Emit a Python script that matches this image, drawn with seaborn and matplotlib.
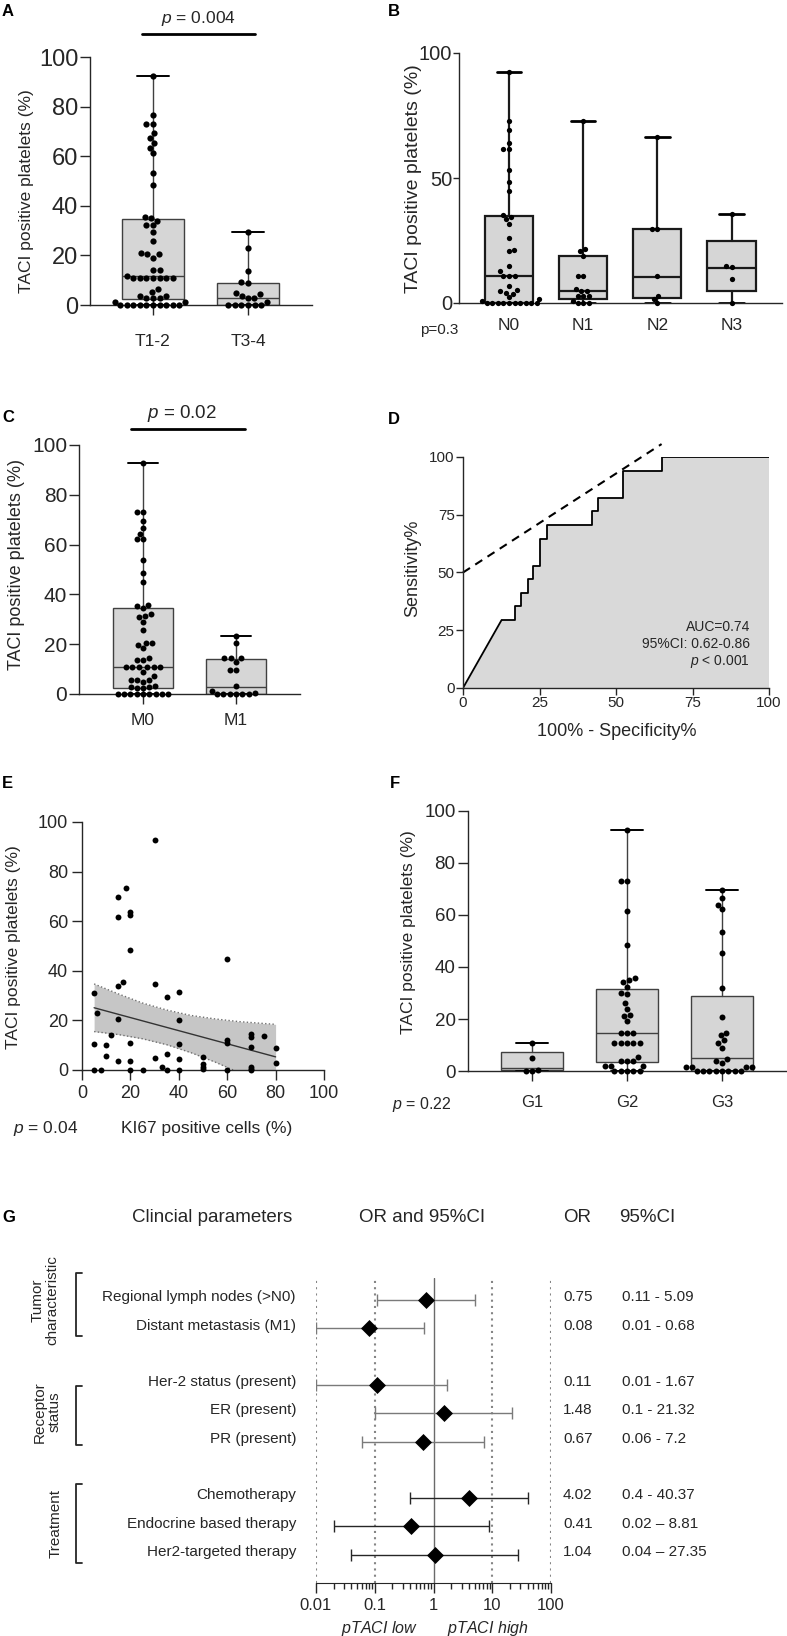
import numpy as np
import pandas as pd
import matplotlib
matplotlib.use('Agg')
import matplotlib.pyplot as plt
import seaborn as sns
from matplotlib import transforms
from matplotlib.lines import Line2D
from matplotlib.ticker import LogLocator, NullFormatter

# ---- data ----
# A: T stage
t_cats = ['T1-2', 'T3-4']
t12 = [92.2, 76.8, 72.9, 72.9, 69.4, 67.5, 65.5, 63.5, 61.3, 53.4, 48.2, 35.3, 34.9, 34.0,
       32.1, 32.1, 29.5, 25.8, 21.1, 20.4, 20.4, 19.1, 14.1, 14.1, 11.8, 11, 11, 11, 11, 11,
       11, 11, 6.6, 5.2, 3.6, 3.6, 2.7, 2.7, 2.7, 1.3, 1.3, 0, 0, 0, 0, 0, 0, 0, 0, 0, 0]
t34 = [29.3, 23.1, 13.8, 9.4, 9.0, 4.7, 4.4, 3.6, 3.0, 2.7, 1.1, 0, 0, 0, 0, 0, 0]
t_box = [(0, 2.5, 11.5, 34.5, 92.2), (0, 0, 3.0, 9.0, 29.3)]   # min, q1, median, q3, max

# B: N stage
n_cats = ['N0', 'N1', 'N2', 'N3']
n0 = [92.3, 72.9, 69.3, 64.0, 61.7, 61.7, 53.3, 48.3, 45.0, 35.3, 34.4, 33.5, 31.7, 26.0,
      21.3, 21.0, 14.7, 12.7, 11, 11, 11, 6.9, 5.1, 4.7, 4.0, 3.7, 2.3, 1.7, 1.0,
      0, 0, 0, 0, 0, 0, 0, 0, 0, 0]
n1 = [72.9, 21.6, 20.7, 18.9, 10.9, 10.9, 5.6, 5.0, 4.7, 2.7, 2.7, 2.7, 1.0, 0, 0, 0]
n2 = [66.4, 29.6, 29.6, 10.7, 2.9, 1.6, 0]
n3 = [35.6, 14.7, 14.3, 9.6, 0]
n_box = [(0, 0, 11, 35, 92.3), (0, 1.5, 5, 19, 72.9), (0, 2, 10.5, 29.5, 66.4), (0, 5, 14, 25, 35.6)]

# C: M stage
m_cats = ['M0', 'M1']
m0 = [92.6, 73.2, 73.2, 69.6, 66.5, 64.2, 62.1, 62.1, 53.8, 48.5, 45.1, 35.9, 35.3, 34.4,
      32.0, 31.5, 30.9, 29.0, 25.7, 20.6, 20.6, 19.7, 18.5, 14.5, 13.7, 13.7,
      10.7, 10.7, 10.7, 10.7, 10.7, 10.7, 9.0, 7.2, 5.6, 5.6, 5.5, 5.0, 3.2, 3.0, 2.8,
      2.5, 2.5, 0, 0, 0, 0, 0, 0, 0, 0, 0]
m1 = [23.4, 20.6, 14.3, 14.3, 14.3, 13.0, 9.8, 9.6, 3.2, 1.3, 0.6, 0, 0, 0, 0, 0, 0]
m_box = [(0, 2.5, 10.8, 34.5, 92.6), (0, 0, 2.8, 14, 23.4)]

# D: ROC curve
roc_fpr = [12.6, 17.0, 19.0, 21.1, 23.0, 25.2, 27.3, 42.0, 44.2, 52.2, 64.9, 100]
roc_tpr = [29.4, 35.3, 41.2, 47.1, 52.9, 64.7, 70.6, 76.5, 82.4, 94.1, 100, 100]
tangent_x = [0, 64.9]
tangent_y = [50, 105.6]

# E: KI67 correlation
ki67 = [30, 18, 15, 15, 20, 20, 20, 60,
        5, 15, 17, 30, 35, 40,
        6, 15, 40,
        12, 5, 10, 20, 40, 60, 60,
        70, 70, 70, 75, 80, 80,
        10, 15, 20, 30, 35, 40,
        50, 50, 50, 50, 33, 70, 70,
        5, 8, 20, 25, 35, 40, 60, 70]
taci = [92.7, 73.3, 69.6, 61.8, 63.8, 62.4, 48.3, 44.9,
        30.9, 33.7, 35.3, 34.7, 29.3, 31.6,
        23.1, 20.4, 20.3,
        14.0, 10.4, 10.0, 10.7, 10.3, 12.0, 10.9,
        14.4, 13.3, 9.3, 13.7, 8.9, 2.7,
        5.5, 3.7, 3.7, 4.8, 6.5, 4.5,
        5.1, 2.4, 1.3, 0.4, 1.3, 1.3, 0.4,
        0, 0, 0, 0, 0, 0, 0, 0]
fit_x = [5, 80]
fit_y = [25.1, 5.3]
band_x = [5, 15, 25, 35, 45, 55, 65, 80]
band_hi = [34.7, 30.7, 27.0, 24.2, 22.0, 20.6, 19.5, 18.4]
band_lo = [15.5, 14.3, 12.6, 10.2, 7.0, 3.2, -1.1, -7.8]

# F: grading
g_cats = ['G1', 'G2', 'G3']
g1 = [10.6, 4.9, 0.5, 0, 0]
g2 = [92.7, 73.2, 73.2, 61.7, 48.5, 35.6, 35.0, 34.1, 32.4, 29.9, 29.5, 26.0, 23.8, 21.5,
      21.3, 19.3, 14.5, 14.5, 14.5, 10.9, 10.9, 10.9, 10.9, 10.9, 5.5, 3.8, 3.8, 3.8,
      1.9, 1.9, 1.9, 0, 0, 0, 0, 0]
g3 = [69.6, 66.4, 63.8, 62.2, 53.6, 45.3, 31.8, 20.7, 14.7, 13.8, 11.9, 10.9, 9.0, 4.5,
      3.8, 3.0, 1.5, 1.5, 1.5, 1.5, 0, 0, 0, 0, 0, 0, 0, 0]
g_box = [(0, 0.5, 1.0, 7.5, 10.6), (0, 3.5, 14.5, 31.5, 92.7), (0, 0, 5.0, 28.8, 69.6)]

# G: odds ratios
params = ['Regional lymph nodes (>N0)', 'Distant metastasis (M1)', 'Her-2 status (present)',
          'ER (present)', 'PR (present)', 'Chemotherapy', 'Endocrine based therapy',
          'Her2-targeted therapy']
row_pos = [0, 1, 3, 4, 5, 7, 8, 9]
odds = [0.75, 0.08, 0.11, 1.48, 0.67, 4.02, 0.41, 1.04]
ci_low = [0.11, 0.01, 0.01, 0.1, 0.06, 0.4, 0.02, 0.04]
ci_high = [5.09, 0.68, 1.67, 21.32, 7.2, 40.37, 8.81, 27.35]
or_text = ['0.75', '0.08', '0.11', '1.48', '0.67', '4.02', '0.41', '1.04']
ci_text = ['0.11 - 5.09', '0.01 - 0.68', '0.01 - 1.67', '0.1 - 21.32', '0.06 - 7.2',
           '0.4 - 40.37', '0.02 \u2013 8.81', '0.04 \u2013 27.35']

# ---- style ----
sns.set_style('ticks')
plt.rcParams['font.family'] = ['Liberation Sans', 'DejaVu Sans']
plt.rcParams['mathtext.fontset'] = 'custom'
plt.rcParams['mathtext.it'] = 'Liberation Sans:italic'
plt.rcParams['mathtext.rm'] = 'Liberation Sans'
INK = '#262626'
BOX_FILL = '#d6d6d6'

W, H = 787, 1636
fig = plt.figure(figsize=(W / 100, H / 100), dpi=100)
PX = transforms.Affine2D().scale(1 / W, -1 / H).translate(0, 1) + fig.transFigure


def add_ax(x0, y_top, x1, y_bot):
    return fig.add_axes([x0 / W, 1 - y_bot / H, (x1 - x0) / W, (y_bot - y_top) / H])


def ptext(x, y, s, **kw):
    kw.setdefault('color', INK)
    kw.setdefault('va', 'center')
    return fig.text(x, y, s, transform=PX, **kw)


def pline(xs, ys, **kw):
    fig.add_artist(Line2D(xs, ys, transform=PX, **kw))


def style_axes(ax, ylen, xlen, ysize, xsize, ypad, xpad):
    sns.despine(ax=ax)
    for s in ['left', 'bottom']:
        ax.spines[s].set_color(INK)
        ax.spines[s].set_linewidth(1.0)
    ax.tick_params(axis='y', length=ylen, width=1, color=INK, labelsize=ysize,
                   pad=ypad, labelcolor=INK)
    ax.tick_params(axis='x', length=xlen, width=1, color=INK, labelsize=xsize,
                   pad=xpad, labelcolor=INK)
    ax.set_xlabel('')
    ax.set_ylabel('')


def box_panel(ax, cats, groups, stats, xlim, dot, lw=1.0, edge='#404040', capw=0.33):
    bstats = [dict(label=c, whislo=s[0], q1=s[1], med=s[2], q3=s[3], whishi=s[4])
              for c, s in zip(cats, stats)]
    ax.bxp(bstats, positions=list(range(len(cats))), widths=0.65,
           capwidths=capw, showfliers=False, patch_artist=True, manage_ticks=False,
           boxprops=dict(facecolor=BOX_FILL, edgecolor=edge, linewidth=lw),
           medianprops=dict(color=edge, linewidth=lw),
           whiskerprops=dict(color=edge, linewidth=lw),
           capprops=dict(color='black', linewidth=lw + 0.4))
    df = pd.DataFrame({'group': np.repeat(cats, [len(g) for g in groups]),
                       'value': np.concatenate(groups)})
    sns.swarmplot(data=df, x='group', y='value', order=cats, color='black', size=dot,
                  ax=ax, clip_on=False, zorder=3)
    ax.set_xlim(*xlim)
    ax.set_ylim(0, 100)
    ax.set_xticks(range(len(cats)))
    ax.set_xticklabels(cats)


# ---- A ----
axA = add_ax(90, 57, 312, 305)
box_panel(axA, t_cats, [t12, t34], t_box, (-0.663, 1.674), dot=4.5)
axA.set_yticks(range(0, 101, 20))
style_axes(axA, 7, 7, 17, 12.5, 1.5, 14)
ptext(27, 191, 'TACI positive platelets (%)', rotation=90, ha='center', fontsize=12.5)
ptext(198, 19, '$\\it{p}$ = 0.004', ha='center', fontsize=12.5)
pline([142, 255], [34, 34], color='black', lw=2)

# ---- B ----
axB = add_ax(459, 53, 782, 303)
box_panel(axB, n_cats, [n0, n1, n2, n3], n_box, (-0.674, 3.68), dot=3.8, lw=1.6,
          edge='#1a1a1a')
axB.set_yticks([0, 50, 100])
style_axes(axB, 4, 0, 14.5, 12.5, 1, 11)
ptext(413.5, 179, 'TACI positive platelets (%)', rotation=90, ha='center', fontsize=14)
ptext(420, 330, 'p=0.3', ha='left', fontsize=11)

# ---- C ----
axC = add_ax(79, 445, 300, 694)
box_panel(axC, m_cats, [m0, m1], m_box, (-0.688, 1.688), dot=4.3)
axC.set_yticks(range(0, 101, 20))
style_axes(axC, 7, 7, 15, 12.5, 1.5, 7)
ptext(17, 564, 'TACI positive platelets (%)', rotation=90, ha='center', fontsize=13)
ptext(182, 413, '$\\it{p}$ = 0.02', ha='center', fontsize=13.5)
pline([131, 245], [429, 429], color='black', lw=2)

# ---- D ----
axD = add_ax(463, 457, 769, 688)
axD.fill_between([0] + roc_fpr[:1], [0] + roc_tpr[:1], color='#d9d9d9', lw=0)
axD.fill_between(roc_fpr, roc_tpr, step='post', color='#d9d9d9', lw=0)
sns.lineplot(x=[0] + roc_fpr[:1], y=[0] + roc_tpr[:1], color='black', lw=1.3, ax=axD)
axD.plot(roc_fpr, roc_tpr, drawstyle='steps-post', color='black', lw=1.3)
axD.plot(tangent_x, tangent_y, ls=(0, (4, 3)), color='black', lw=1.5, clip_on=False)
axD.set_xlim(0, 100)
axD.set_ylim(0, 100)
axD.set_xticks([0, 25, 50, 75, 100])
axD.set_yticks([0, 25, 50, 75, 100])
style_axes(axD, 5, 5, 11, 11, 1, 1)
ptext(413, 568, 'Sensitivity%', rotation=90, ha='center', fontsize=13)
ptext(617, 731, '100% - Specificity%', ha='center', fontsize=13)
ptext(750, 627, 'AUC=0.74', ha='right', fontsize=10)
ptext(750, 644, '95%CI: 0.62-0.86', ha='right', fontsize=10)
ptext(750, 662, '$\\it{p}$ < 0.001', ha='right', fontsize=10)

# ---- E ----
axE = add_ax(82, 822, 324, 1070)
axE.fill_between(band_x, band_lo, band_hi, color='#c6c6c6', lw=0)
axE.plot(band_x, band_hi, ls=':', color='#707070', lw=1)
axE.plot(band_x, band_lo, ls=':', color='#707070', lw=1)
axE.plot(fit_x, fit_y, color='#333333', lw=1)
sns.scatterplot(x=ki67, y=taci, color='black', s=18, linewidth=0, ax=axE,
                clip_on=False, zorder=3)
axE.set_xlim(0, 100)
axE.set_ylim(0, 100)
axE.set_xticks(range(0, 101, 20))
axE.set_yticks(range(0, 101, 20))
style_axes(axE, 7, 7, 13, 13, 3, 4)
ptext(14, 947, 'TACI positive platelets (%)', rotation=90, ha='center', fontsize=12.5)
ptext(207, 1128, 'KI67 positive cells (%)', ha='center', fontsize=12.5)
ptext(13, 1128, '$\\it{p}$ = 0.04', ha='left', fontsize=12.5)

# ---- F ----
axF = add_ax(468, 811, 787, 1071)
box_panel(axF, g_cats, [g1, g2, g3], g_box, (-0.674, 2.684), dot=4.3)
axF.set_yticks(range(0, 101, 20))
style_axes(axF, 7, 7, 13.5, 12, 2, 10)
ptext(408, 932, 'TACI positive platelets (%)', rotation=90, ha='center', fontsize=12.5)
ptext(392, 1104, '$\\it{p}$ = 0.22', ha='left', fontsize=11.5)

# ---- G ----
axG = add_ax(316, 1278, 551, 1583)
axG.set_xscale('log')
axG.set_xlim(0.01, 100)
axG.set_ylim(10, -0.78)
for ref in [0.01, 0.1, 10, 100]:
    axG.axvline(ref, color='#858585', ls=(0, (1, 2)), lw=1.5)
axG.axvline(1, color='#6a6a6a', lw=1)
for i in range(len(params)):
    col = '#7a7a7a' if i < 5 else '#262626'
    axG.errorbar(odds[i], row_pos[i],
                 xerr=[[odds[i] - ci_low[i]], [ci_high[i] - odds[i]]],
                 fmt='none', ecolor=col, elinewidth=1, capsize=4.3, capthick=1)
sns.scatterplot(x=odds, y=row_pos, marker='D', color='black', s=75, linewidth=0,
                ax=axG, zorder=4)
sns.despine(ax=axG, left=True)
axG.spines['bottom'].set_color(INK)
axG.set_yticks([])
axG.set_xticks([0.01, 0.1, 1, 10, 100])
axG.set_xticklabels(['0.01', '0.1', '1', '10', '100'])
axG.xaxis.set_minor_locator(LogLocator(base=10, subs=np.arange(2, 10)))
axG.xaxis.set_minor_formatter(NullFormatter())
axG.tick_params(axis='x', which='major', length=7, width=1, color=INK, labelsize=12,
                pad=4, labelcolor=INK)
axG.tick_params(axis='x', which='minor', length=4, width=1, color=INK)
axG.set_xlabel('')
axG.set_ylabel('')

rowtf = transforms.blended_transform_factory(fig.transFigure, axG.transData)
for i, name in enumerate(params):
    y = row_pos[i] - 0.1
    fig.text(296 / W, y, name, transform=rowtf, ha='right', va='center', fontsize=11, color=INK)
    fig.text(563 / W, y, or_text[i], transform=rowtf, ha='left', va='center', fontsize=11, color=INK)
    fig.text(622 / W, y, ci_text[i], transform=rowtf, ha='left', va='center', fontsize=11, color=INK)

ptext(212, 1217, 'Clincial parameters', ha='center', fontsize=13.5)
ptext(422, 1217, 'OR and 95%CI', ha='center', fontsize=13.5)
ptext(577, 1217, 'OR', ha='center', fontsize=13.5)
ptext(647, 1217, '95%CI', ha='center', fontsize=13.5)
ptext(380, 1628, '$\\it{pTACI\\ low}$', ha='center', fontsize=11.5)
ptext(488, 1628, '$\\it{pTACI\\ high}$', ha='center', fontsize=11.5)

# group brackets
for top, bot in [(1273, 1336), (1386, 1445), (1484, 1563)]:
    pline([82, 76, 76, 82], [top, top, bot, bot], color=INK, lw=1.3)
ptext(45, 1300, 'Tumor\ncharacteristic', rotation=90, ha='center', fontsize=11,
      linespacing=1.1)
ptext(47, 1412, 'Receptor\nstatus', rotation=90, ha='center', fontsize=11, linespacing=1.1)
ptext(56, 1523, 'Treatment', rotation=90, ha='center', fontsize=11)

# panel letters
for letter, x, y in [('A', 2, 12), ('B', 388, 12), ('C', 2, 418), ('D', 388, 419),
                     ('E', 2, 784), ('F', 390, 784), ('G', 2, 1218)]:
    ptext(x, y, letter, ha='left', fontsize=12, fontweight='bold', color='black')

fig.savefig('out.png', dpi=100)
